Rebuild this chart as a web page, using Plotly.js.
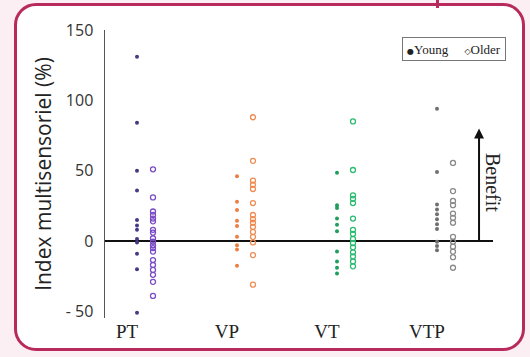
<!DOCTYPE html>
<html>
<head>
<meta charset="utf-8">
<script src="https://cdn.plot.ly/plotly-3.0.1.min.js"></script>
<style>
  html, body { margin: 0; padding: 0; width: 530px; height: 357px; background: #fbeff3; overflow: hidden; }
  #frame { position: absolute; left: 14px; top: 3px; width: 505px; height: 342px; border: 3px solid #b82a5c; border-radius: 22px; background: #ffffff; }
  #tick { position: absolute; left: 436px; top: 0px; width: 3px; height: 8px; background: #b82a5c; }
  #chart { position: absolute; left: 0; top: 0; width: 530px; height: 357px; }
</style>
</head>
<body>
<div id="frame"></div>
<div id="tick"></div>
<div id="chart"></div>
<script>
const categories = ["PT", "VP", "VT", "VTP"];
const ptYoung  = [131, 84, 50, 36, 15, 11, 8, 1.5, -1, -9, -20, -51];
const ptOlder  = [51, 31, 21, 18.5, 16, 14, 8, 6, 2, -0.5, -3, -5, -7.5, -13.5, -17, -20.5, -24, -29, -39];
const vpYoung  = [46, 28, 22, 14.5, 10.7, 3, -3, -6, -17.5];
const vpOlder  = [88, 57, 43, 40, 37, 27, 18.5, 15.5, 13, 10, 6.5, 3, -1, -10, -31];
const vtYoung  = [48.5, 25.5, 23.5, 16, 11.5, 7, -7.5, -14.5, -19, -23];
const vtOlder  = [85, 50.5, 32.5, 30, 27, 16, 8, 5, 1.5, -1.5, -4.5, -8, -11, -14.5, -18];
const vtpYoung = [94, 49, 26, 22.5, 19, 15.5, 12, 8.5, -0.5, -3.5, -6.5];
const vtpOlder = [55.5, 35.5, 28.5, 25.5, 19.5, 16.5, 13, 3, -0.5, -4, -7.5, -11.5, -19];
const yTickVals = [150, 100, 50, 0, -50];
const yTickText = ["150", "100", "50", "0", "- 50"];

const youngSets = [ptYoung, vpYoung, vtYoung, vtpYoung];
const olderSets = [ptOlder, vpOlder, vtOlder, vtpOlder];
const youngColors = ["#463a86", "#ec7e42", "#1f9e5c", "#707070"];
const olderColors = ["#7a4cc6", "#f08b4f", "#2bbb70", "#8a8a8a"];

const traces = [];
categories.forEach((c, i) => {
  const pos = i + 1;
  traces.push({
    type: "scatter", mode: "markers", name: "Young " + c, showlegend: false,
    x: youngSets[i].map(() => pos + 0.10), y: youngSets[i],
    marker: { symbol: "circle", size: 4, color: youngColors[i] },
    hoverinfo: "y"
  });
  traces.push({
    type: "scatter", mode: "markers", name: "Older " + c, showlegend: false,
    x: olderSets[i].map(() => pos + 0.26), y: olderSets[i],
    marker: { symbol: "circle-open", size: 5, color: olderColors[i], line: { width: 1.3, color: olderColors[i] } },
    hoverinfo: "y"
  });
});

const serif = "Liberation Serif, Times New Roman, serif";
const layout = {
  width: 530, height: 357,
  margin: { l: 105, r: 37, t: 30, b: 39 },
  paper_bgcolor: "rgba(0,0,0,0)",
  plot_bgcolor: "rgba(0,0,0,0)",
  showlegend: false,
  xaxis: {
    range: [0.78, 4.66],
    tickvals: [1, 2, 3, 4], ticktext: categories,
    showgrid: false, zeroline: false, showline: false,
    ticks: "", ticklen: 0,
    tickfont: { family: serif, size: 19, color: "#222" }
  },
  yaxis: {
    range: [-54.7, 150],
    tickvals: yTickVals, ticktext: yTickText,
    showgrid: false, showline: true, linecolor: "#555", linewidth: 1.5,
    zeroline: true, zerolinecolor: "#111", zerolinewidth: 1.5,
    ticks: "outside", ticklen: 7, tickcolor: "rgba(0,0,0,0)",
    tickfont: { family: "Open Sans, sans-serif", size: 16, color: "#333" },
    title: { text: "Index multisensoriel (%)", standoff: 8,
             font: { family: "Open Sans, sans-serif", size: 21, color: "#222" } }
  },
  annotations: [
    { xref: "paper", yref: "y", x: 0.964, y: 80, ax: 0, ay: 113, axref: "pixel", ayref: "pixel",
      showarrow: true, arrowhead: 2, arrowsize: 1, arrowwidth: 2, arrowcolor: "#111", text: "" },
    { xref: "paper", yref: "y", x: 1.0, y: 42, xanchor: "center", yanchor: "middle", showarrow: false, textangle: 90,
      text: "Benefit", font: { family: serif, size: 20, color: "#222" } },
    { xref: "paper", yref: "paper", x: 0.9, y: 0.935, xanchor: "center", yanchor: "middle", showarrow: false,
      text: "<span style='font-family:DejaVu Sans;font-size:8px;color:#222'>●</span>Young     <span style='font-family:DejaVu Sans;font-size:8px;color:#222'>◇</span>Older",
      width: 100, height: 20, align: "center",
      bordercolor: "#777", borderwidth: 1, borderpad: 1, bgcolor: "#fff",
      font: { family: serif, size: 13, color: "#222" } }
  ]
};

Plotly.newPlot("chart", traces, layout, { displayModeBar: false, staticPlot: true });
</script>
</body>
</html>
